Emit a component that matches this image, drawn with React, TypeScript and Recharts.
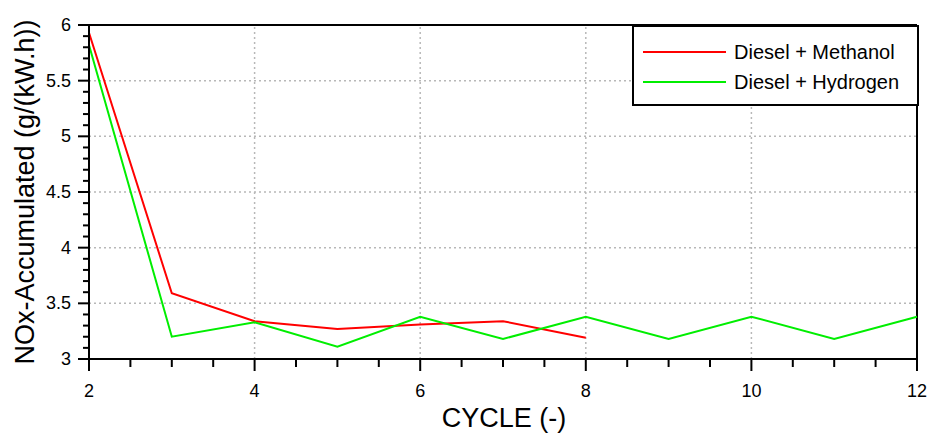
import React from 'react';
import { LineChart, Line, XAxis, YAxis, ReferenceLine } from 'recharts';

const cycles = [2, 3, 4, 5, 6, 7, 8, 9, 10, 11, 12];
const methanol = [5.93, 3.59, 3.34, 3.27, 3.31, 3.34, 3.19, null, null, null, null];
const hydrogen = [5.82, 3.2, 3.33, 3.11, 3.38, 3.18, 3.38, 3.18, 3.38, 3.18, 3.38];

const xTicks = [2, 2.5, 3, 3.5, 4, 4.5, 5, 5.5, 6, 6.5, 7, 7.5, 8, 8.5, 9, 9.5, 10, 10.5, 11, 11.5, 12];
const xLabels = [2, 4, 6, 8, 10, 12];
const xGrid = [4, 6, 8, 10];
const yTicks = [3, 3.1, 3.2, 3.3, 3.4, 3.5, 3.6, 3.7, 3.8, 3.9, 4, 4.1, 4.2, 4.3, 4.4, 4.5, 4.6, 4.7, 4.8, 4.9, 5, 5.1, 5.2, 5.3, 5.4, 5.5, 5.6, 5.7, 5.8, 5.9, 6];
const yLabels = [3, 3.5, 4, 4.5, 5, 5.5, 6];
const yGrid = [3.5, 4, 4.5, 5, 5.5];
const seriesNames = ['Diesel + Methanol', 'Diesel + Hydrogen'];
const seriesColors = ['#ff0000', '#00ee00'];

const data = cycles.map((c, i) => ({ cycle: c, methanol: methanol[i], hydrogen: hydrogen[i] }));

const FONT = '"Liberation Sans", Arial, sans-serif';

const isLabel = (list: number[], v: number) => list.some((l) => Math.abs(l - v) < 1e-6);

const renderXTick = (props: any) => {
  const { x, y, payload } = props;
  const major = isLabel(xLabels, payload.value);
  const len = major ? 12 : 8;
  return (
    <g key={'xt' + payload.value}>
      <line x1={x} x2={x} y1={y} y2={y + len} stroke="#000" strokeWidth={2} />
      {major && (
        <text x={x} y={y + 38} textAnchor="middle" fontSize={18} fontFamily={FONT} fill="#000">
          {String(payload.value)}
        </text>
      )}
    </g>
  );
};

const renderYTick = (props: any) => {
  const { x, y, payload } = props;
  const major = isLabel(yLabels, payload.value);
  const len = major ? 11 : 6;
  return (
    <g key={'yt' + payload.value}>
      <line x1={x - len} x2={x} y1={y} y2={y} stroke="#000" strokeWidth={2} />
      {major && (
        <text x={x - 18} y={y + 6} textAnchor="end" fontSize={18} fontFamily={FONT} fill="#000">
          {String(Math.round(payload.value * 10) / 10)}
        </text>
      )}
    </g>
  );
};

export default function App() {
  return (
    <div style={{ position: 'absolute', left: 0, top: 0, width: 929, height: 433, background: '#fff' }}>
      <LineChart width={929} height={433} data={data} margin={{ top: 25, right: 12, left: 0, bottom: 0 }}>
        {xGrid.map((v) => (
          <ReferenceLine key={'gx' + v} x={v} stroke="#b8b8b8" strokeDasharray="2 3" strokeWidth={1.5} />
        ))}
        {yGrid.map((v) => (
          <ReferenceLine key={'gy' + v} y={v} stroke="#b8b8b8" strokeDasharray="2 3" strokeWidth={1.5} />
        ))}
        <ReferenceLine y={6} stroke="#000" strokeWidth={2} />
        <ReferenceLine x={12} stroke="#000" strokeWidth={2} />
        <XAxis
          dataKey="cycle"
          type="number"
          domain={[2, 12]}
          ticks={xTicks}
          interval={0}
          height={74}
          tickSize={0}
          tickMargin={0}
          tickLine={false}
          axisLine={{ stroke: '#000', strokeWidth: 2 }}
          tick={renderXTick}
          label={{
            content: () => (
              <text x={504} y={427} textAnchor="middle" fontSize={27} fontFamily={FONT} fill="#000">
                CYCLE (-)
              </text>
            ),
          }}
        />
        <YAxis
          type="number"
          domain={[3, 6]}
          ticks={yTicks}
          interval={0}
          width={89}
          tickSize={0}
          tickMargin={0}
          tickLine={false}
          axisLine={{ stroke: '#000', strokeWidth: 2 }}
          tick={renderYTick}
          label={{
            content: () => (
              <text
                x={34}
                y={192}
                textAnchor="middle"
                fontSize={27}
                fontFamily={FONT}
                fill="#000"
                transform="rotate(-90 34 192)"
              >
                NOx-Accumulated (g/(kW.h))
              </text>
            ),
          }}
        />
        <Line dataKey="methanol" stroke={seriesColors[0]} strokeWidth={2} dot={false} isAnimationActive={false} />
        <Line dataKey="hydrogen" stroke={seriesColors[1]} strokeWidth={2} dot={false} isAnimationActive={false} />
      </LineChart>
      <div
        style={{
          position: 'absolute',
          left: 632,
          top: 25,
          width: 283,
          height: 77,
          border: '2px solid #000',
          background: '#fff',
          fontFamily: FONT,
          fontSize: 20,
          color: '#000',
        }}
      >
        {seriesNames.map((name, i) => (
          <div key={name} style={{ display: 'flex', alignItems: 'center', height: 30, marginTop: i === 0 ? 10 : 0 }}>
            <div style={{ width: 83, height: 2, background: seriesColors[i], marginLeft: 9, marginRight: 8 }} />
            <span>{name}</span>
          </div>
        ))}
      </div>
    </div>
  );
}
